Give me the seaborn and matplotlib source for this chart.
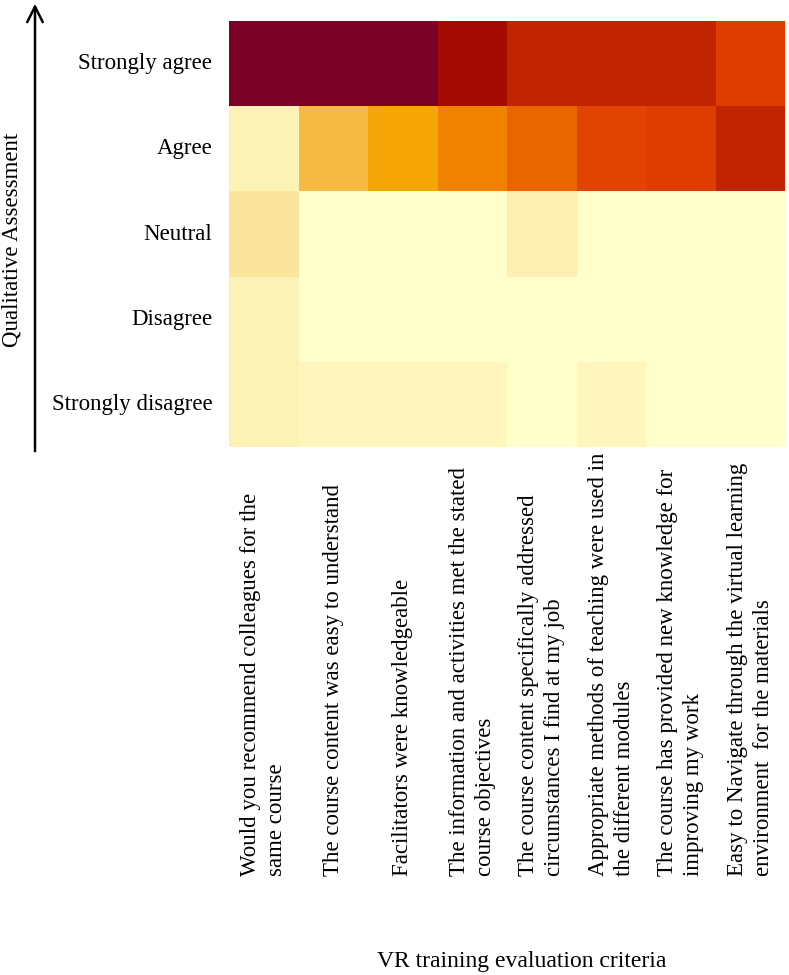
import numpy as np
import pandas as pd
import matplotlib
matplotlib.use("Agg")
import matplotlib.pyplot as plt
from matplotlib.colors import LinearSegmentedColormap
import seaborn as sns

# survey answers (% of respondents) per evaluation criterion
levels = ["Strongly agree", "Agree", "Neutral", "Disagree", "Strongly disagree"]
criteria = [
    "Would you recommend colleagues for the\nsame course",
    "The course content was easy to understand",
    "Facilitators were knowledgeable",
    "The information and activities met the stated\ncourse objectives",
    "The course content specifically addressed\ncircumstances I find at my job",
    "Appropriate methods of teaching were used in\nthe different modules",
    "The course has provided new knowledge for\nimproving my work",
    "Easy to Navigate through the virtual learning\nenvironment  for the materials",
]
strongly_agree = [80, 70, 68, 62, 55, 55, 55, 45]
agree = [4, 27, 29, 35, 40, 44, 45, 55]
neutral = [8, 0, 0, 0, 5, 0, 0, 0]
disagree = [4, 0, 0, 0, 0, 0, 0, 0]
strongly_disagree = [4, 3, 3, 3, 0, 3, 0, 0]

df = pd.DataFrame([strongly_agree, agree, neutral, disagree, strongly_disagree],
                  index=levels, columns=criteria)

sns.set_style("white")
plt.rcParams['font.family'] = ['Liberation Serif', 'DejaVu Serif']
for key in ['text.color', 'axes.labelcolor', 'xtick.color', 'ytick.color']:
    plt.rcParams[key] = 'black'
FS = 16.5

# yellow -> orange -> maroon, close to the printed palette
cmap = LinearSegmentedColormap.from_list("survey", [
    (0.00, "#ffffcc"),
    (0.06, "#fdf2b6"),
    (0.12, "#fae29a"),
    (0.40, "#f6b840"),
    (0.43, "#f5a300"),
    (0.51, "#f08300"),
    (0.59, "#e86400"),
    (0.66, "#e03c00"),
    (0.81, "#c22400"),
    (0.91, "#a50a00"),
    (1.00, "#7b0026"),
])

fig = plt.figure(figsize=(7.89, 9.75), dpi=100)
ax = fig.add_axes([229 / 789, 1 - 447 / 975, 556 / 789, 426 / 975])
sns.heatmap(df, ax=ax, cmap=cmap, vmin=0, vmax=68, cbar=False)

ax.tick_params(axis='both', length=0)
ax.tick_params(axis='y', pad=12)
ax.tick_params(axis='x', pad=309)
ax.set_yticklabels(levels, rotation=0, fontsize=FS)
ax.set_xticklabels(criteria, rotation=90, fontsize=FS, va='bottom', ha='center',
                   multialignment='left', linespacing=1.3)

ax.set_xlabel("VR training evaluation criteria", fontsize=17)
ax.xaxis.set_label_coords(0.527, -1.183)
ax.set_ylabel("Qualitative Assessment", fontsize=FS)
ax.yaxis.set_label_coords(-0.372, 0.486)

# upward arrow along the assessment axis
fig.add_artist(matplotlib.patches.FancyArrowPatch(
    (35 / 789, 1 - 454 / 975), (35 / 789, 1 - 1 / 975),
    transform=fig.transFigure, arrowstyle='->', mutation_scale=28,
    lw=1.8, color='black'))

fig.savefig("out.png", dpi=100)
plt.close(fig)
